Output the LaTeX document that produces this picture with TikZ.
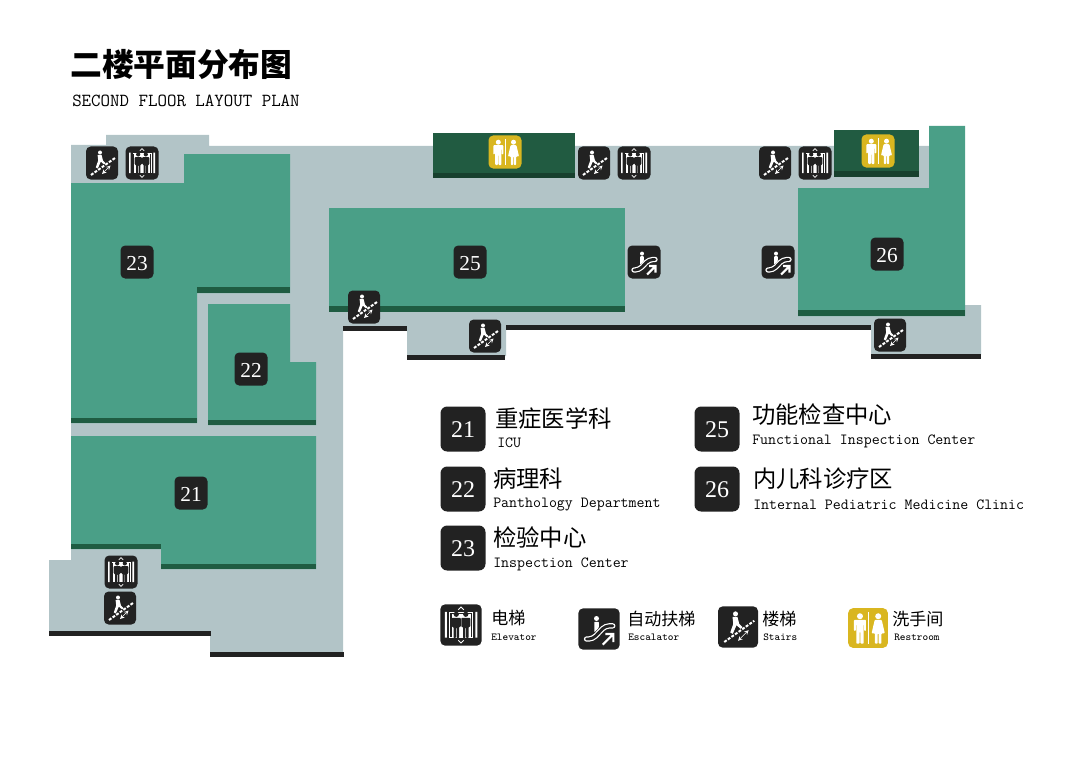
\documentclass[tikz,border=0pt]{standalone}
\usepackage{fontspec}
\newfontfamily\cjkfont{Noto Sans CJK SC}
\newfontfamily\numfont{Liberation Serif}
\definecolor{floorgrey}{HTML}{B2C4C7}
\definecolor{roomgreen}{HTML}{4A9F87}
\definecolor{banddark}{HTML}{1F5C42}
\definecolor{toiletgreen}{HTML}{215B41}
\definecolor{toiletband}{HTML}{17402E}
\definecolor{wallblack}{HTML}{222222}
\definecolor{signyellow}{HTML}{D9B620}
\newcommand{\manfig}[2]{%
  \fill [#2] (#1,-8.6) circle (2.1);
  \fill [#2,rounded corners=0.6] (#1-3.6,-5.8) -- (#1+3.6,-5.8) -- (#1+3.6,1.5) -- (#1+2.2,1.5) -- (#1+2.2,10.5) -- (#1+0.3,10.5) -- (#1+0.3,2) -- (#1-0.3,2) -- (#1-0.3,10.5) -- (#1-2.2,10.5) -- (#1-2.2,1.5) -- (#1-3.6,1.5) -- cycle;
}
\tikzset{
  every pic/.style={yscale=-1},
  roombadge/.style={fill=wallblack,text=white,rounded corners=3.5pt,minimum size=24.75pt,inner sep=0pt,text height=12pt,text depth=0pt,font=\numfont\fontsize{16}{16}\selectfont},
  listbadge/.style={fill=wallblack,text=white,rounded corners=5pt,minimum size=33.75pt,inner sep=0pt,text height=13.4pt,text depth=0pt,font=\numfont\fontsize{18}{18}\selectfont},
  cntext/.style={anchor=west,inner sep=0pt,font=\cjkfont\fontsize{17.5}{18}\selectfont},
  entext/.style={anchor=west,inner sep=0pt,font=\ttfamily\fontsize{11.6}{12}\selectfont},
  cnsmall/.style={anchor=west,inner sep=0pt,font=\cjkfont\fontsize{12.8}{13}\selectfont},
  ensmall/.style={anchor=west,inner sep=0pt,font=\ttfamily\fontsize{8}{9}\selectfont},
  stairsicon/.pic={
    \fill [wallblack,rounded corners=3.5pt] (-16,-16.5) rectangle (16,16.5);
    \draw [white,line width=1.5pt,dash pattern=on 2.2pt off 1.1pt] (-11,12) -- (13,-5);
    \fill [white] (-2,-10.5) circle (2);
    \fill [white] (-4.4,-8) -- (-0.5,-8.2) -- (1,-2.5) -- (3.6,0.2) -- (2,1.4) -- (-1.2,-1.4) -- (-4.2,5.5) -- (-6.2,4.4) -- (-3.8,-2.5) -- cycle;
    \draw [white,line width=0.5pt,<->,>=stealth] (0,11) -- (8.5,2.5);
  },
  elevatoricon/.pic={
    \fill [wallblack,rounded corners=3.5pt] (-16.5,-16.5) rectangle (16.5,16.5);
    \fill [white] (-13,-10.5) rectangle (-11.4,10) (11.4,-10.5) rectangle (13,10);
    \fill [white] (-9.5,-10.5) rectangle (9.5,10);
    \fill [wallblack] (-8.6,-9.5) rectangle (8.6,9.6);
    \fill [white] (-7.6,-8.6) rectangle (7.6,9.6);
    \manfig{-3.8}{wallblack}
    \manfig{3.8}{wallblack}
    \draw [white,line width=0.6pt] (-2.2,-12.2) -- (0,-14.4) -- (2.2,-12.2);
    \draw [white,line width=0.6pt] (-2.2,12.2) -- (0,14.4) -- (2.2,12.2);
  },
  escalatoricon/.pic={
    \fill [wallblack,rounded corners=3.5pt] (-16.5,-16.5) rectangle (16.5,16.5);
    \fill [white] (-2,-8.4) circle (2);
    \fill [white,rounded corners=0.5] (-3.8,-5.8) -- (-0.2,-5.8) -- (-0.2,-1) -- (-3.8,2.6) -- cycle;
    \draw [white,line width=4pt,rounded corners=3pt,line cap=round] (-10,8) -- (-5,8) -- (5,-2.5) -- (11,-2.5);
    \draw [wallblack,line width=2.2pt,rounded corners=3pt,line cap=round] (-10,8) -- (-5,8) -- (5,-2.5) -- (11,-2.5);
    \draw [white,line width=1.6pt] (3,12.5) -- (11,4.5) (5,4) -- (11.5,4) -- (11.5,10.5);
  },
  toileticon/.pic={
    \fill [signyellow,rounded corners=3.5pt] (-16.5,-16.5) rectangle (16.5,16.5);
    \draw [white,line width=0.5pt] (0.3,-13) -- (0.3,13);
    \fill [white] (-6.7,-9.8) circle (2.5);
    \fill [white,rounded corners=0.6] (-11.7,-6.8) -- (-1.7,-6.8) -- (-1.7,2.4) -- (-3.2,2.4) -- (-3.2,-3) -- (-3.6,-3) -- (-3.6,13) -- (-6.4,13) -- (-6.4,3) -- (-7,3) -- (-7,13) -- (-9.8,13) -- (-9.8,-3) -- (-10.2,-3) -- (-10.2,2.4) -- (-11.7,2.4) -- cycle;
    \fill [white] (8.5,-9.8) circle (2.5);
    \fill [white,rounded corners=0.6] (5.6,-6.8) -- (11.4,-6.8) -- (14,4.4) -- (11.2,4.4) -- (11.2,13) -- (8.9,13) -- (8.9,4.4) -- (8.1,4.4) -- (8.1,13) -- (5.8,13) -- (5.8,4.4) -- (3,4.4) -- cycle;
  },
}
\begin{document}
\begin{tikzpicture}[x=0.75pt,y=0.75pt,yscale=-1,xscale=1]
    \useasboundingbox (0,0) rectangle (1080,763);

    %Shape: Floor
    \fill [floorgrey] (71,145) -- (106,145) -- (106,135) -- (209,135) -- (209,146) -- (929,146) -- (929,305) -- (981,305) -- (981,355) -- (871,355) -- (871,326) -- (506,326) -- (506,356) -- (407,356) -- (407,326) -- (343,326) -- (343,653) -- (210,653) -- (210,632) -- (49,632) -- (49,560) -- (71,560) -- cycle;

    %Shape: Room 23
    \fill [roomgreen] (71,183) -- (184,183) -- (184,154) -- (290,154) -- (290,293) -- (197,293) -- (197,423) -- (71,423) -- cycle;
    \fill [banddark] (197,287) rectangle (290,293);
    \fill [banddark] (71,418) rectangle (197,423);
    %Shape: Room 22
    \fill [roomgreen] (208,304) -- (290,304) -- (290,362) -- (316,362) -- (316,425) -- (208,425) -- cycle;
    \fill [banddark] (208,420) rectangle (316,425);
    %Shape: Room 21
    \fill [roomgreen] (71,436) -- (316,436) -- (316,569) -- (161,569) -- (161,549) -- (71,549) -- cycle;
    \fill [banddark] (71,544) rectangle (161,549);
    \fill [banddark] (161,564) rectangle (316,569);
    %Shape: Room 25
    \fill [roomgreen] (329,208) rectangle (625,312);
    \fill [banddark] (329,306) rectangle (625,312);
    %Shape: Room 26
    \fill [roomgreen] (798,188) -- (929,188) -- (929,126) -- (965,126) -- (965,316) -- (798,316) -- cycle;
    \fill [banddark] (798,310) rectangle (965,316);
    %Shape: Toilets
    \fill [toiletgreen] (433,133) rectangle (575,178);
    \fill [toiletband] (433,173) rectangle (575,178);
    \fill [toiletgreen] (834,130) rectangle (919,177);
    \fill [toiletband] (834,171) rectangle (919,177);

    %Shape: Walls
    \fill [wallblack] (343,326) rectangle (407,331);
    \fill [wallblack] (407,355) rectangle (505,360);
    \fill [wallblack] (506,325) rectangle (871,330);
    \fill [wallblack] (871,354) rectangle (981,359);
    \fill [wallblack] (49,631) rectangle (211,636);
    \fill [wallblack] (210,652) rectangle (344,657);

    %Icons on the plan
    \pic (stairsa) at (102,163) {stairsicon};
    \pic (lifta) at (142,163) {elevatoricon};
    \pic (wca) at (505,152) {toileticon};
    \pic (stairsb) at (594,163) {stairsicon};
    \pic (liftb) at (634,163) {elevatoricon};
    \pic (stairsc) at (775,163) {stairsicon};
    \pic (liftc) at (815,163) {elevatoricon};
    \pic (wcb) at (878,151) {toileticon};
    \pic (esca) at (644,262) {escalatoricon};
    \pic (escb) at (778,262) {escalatoricon};
    \pic (stairsd) at (364,307) {stairsicon};
    \pic (stairse) at (485,336) {stairsicon};
    \pic (stairsf) at (890,335) {stairsicon};
    \pic (liftd) at (121,572) {elevatoricon};
    \pic (stairsg) at (120,608) {stairsicon};

    %Room numbers
    \node [roombadge] (room23) at (137,262) {23};
    \node [roombadge] (room25) at (470,262) {25};
    \node [roombadge] (room22) at (251,369) {22};
    \node [roombadge] (room21) at (191,493) {21};
    \node [roombadge] (room26) at (887,254) {26};

    % Title
    \node [anchor=west,inner sep=0pt,font=\cjkfont\bfseries\fontsize{23.8}{24}\selectfont] (title) at (70,64) {二楼平面分布图};
    \node [anchor=west,inner sep=0pt,font=\ttfamily\fontsize{13.8}{14}\selectfont] (subtitle) at (72,101) {SECOND FLOOR LAYOUT PLAN};

    % Room list
    \node [listbadge] (list21) at (463,429) {21};
    \node [cntext] (cn21) at (495,419) {重症医学科};
    \node [entext] (en21) at (497,443) {ICU};
    \node [listbadge] (list22) at (463,489) {22};
    \node [cntext] (cn22) at (493,479) {病理科};
    \node [entext] (en22) at (493,505) {Panthology Department};
    \node [listbadge] (list23) at (463,548) {23};
    \node [cntext] (cn23) at (493,538) {检验中心};
    \node [entext] (en23) at (493,564) {Inspection Center};
    \node [listbadge] (list25) at (717,429) {25};
    \node [cntext] (cn25) at (752,415) {功能检查中心};
    \node [entext] (en25) at (752,441) {Functional Inspection Center};
    \node [listbadge] (list26) at (717,489) {26};
    \node [cntext] (cn26) at (753,479) {内儿科诊疗区};
    \node [entext] (en26) at (753,505) {Internal Pediatric Medicine Clinic};

    % Icon key
    \pic [scale=1.25] (keylift) at (461,625) {elevatoricon};
    \node [cnsmall] (cnlift) at (491,618) {电梯};
    \node [ensmall] (enlift) at (491,637) {Elevator};
    \pic [scale=1.25] (keyesc) at (599,629) {escalatoricon};
    \node [cnsmall] (cnesc) at (627,619) {自动扶梯};
    \node [ensmall] (enesc) at (628,637) {Escalator};
    \pic [scale=1.25] (keystairs) at (738,627) {stairsicon};
    \node [cnsmall] (cnstairs) at (762,619) {楼梯};
    \node [ensmall] (enstairs) at (763,637) {Stairs};
    \pic [scale=1.2] (keywc) at (868,628) {toileticon};
    \node [cnsmall] (cnwc) at (892,619) {洗手间};
    \node [ensmall] (enwc) at (894,637) {Restroom};
\end{tikzpicture}
\end{document}
